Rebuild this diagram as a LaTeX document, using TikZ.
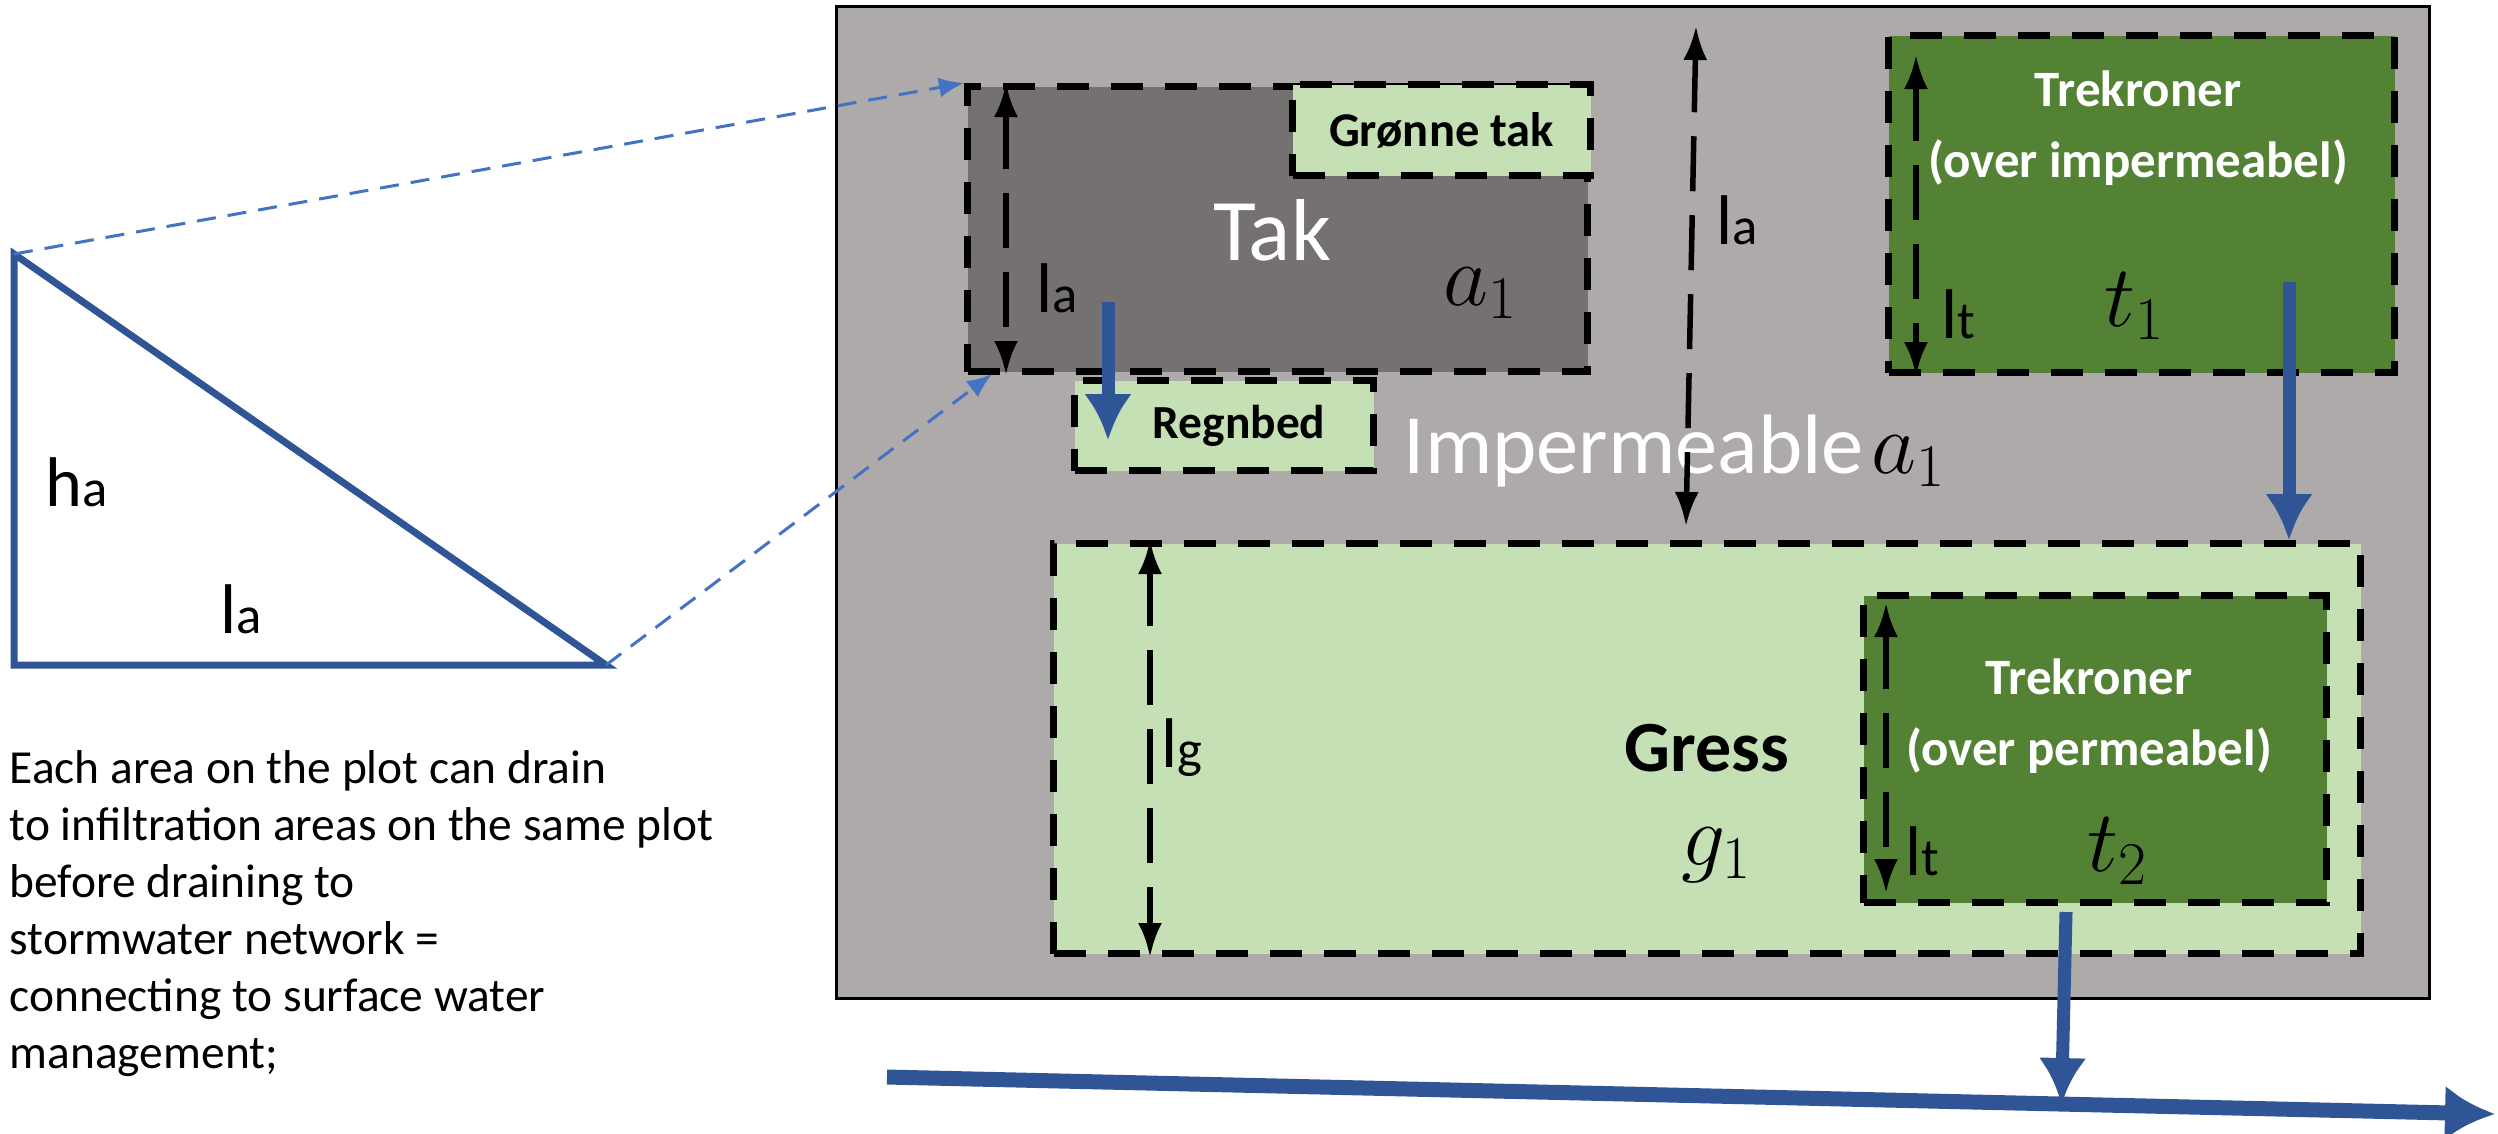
\documentclass[tikz,border=0pt]{standalone}
\usepackage{fontspec}
\setmainfont{Carlito}
\usetikzlibrary{arrows.meta,calc}

\definecolor{plotgray}{HTML}{AEAAAA}
\definecolor{roofgray}{HTML}{767171}
\definecolor{lightgreen}{HTML}{C5E0B4}
\definecolor{darkgreen}{HTML}{548235}
\definecolor{flowblue}{HTML}{2F5597}
\definecolor{linkblue}{HTML}{4472C4}

\newcommand{\dimlab}[2]{{\fontsize{20}{20}\selectfont #1\fontsize{15}{15}\selectfont #2}}
\newcommand{\arealab}[1]{{\fontsize{23}{23}\selectfont $#1$}}

\begin{document}
\begin{tikzpicture}[
  area/.style={draw=black, line width=0.7mm, dash pattern=on 3.2mm off 2.2mm, inner sep=0pt, anchor=north west},
  dimarrow/.style={line width=0.55mm, dash pattern=on 5.5mm off 2.4mm,
    {Latex[length=3.4mm,width=2.4mm]}-{Latex[length=3.4mm,width=2.4mm]}},
  flow/.style={flowblue, line width=1.3mm, -{Latex[length=4.6mm,width=4.8mm]}},
  pipe/.style={flowblue, line width=1.5mm, -{Latex[length=5mm,width=5.5mm]}},
  link/.style={linkblue, line width=0.3mm, dash pattern=on 1.9mm off 1.2mm, -{Latex[length=2.5mm,width=2mm]}},
  treetext/.style={font=\bfseries\fontsize{14.5}{20}\selectfont, text=white, align=center}
]

\useasboundingbox (0,0) rectangle (24.98,-11.33);

%------------------------------------------------
% Slope triangle
%------------------------------------------------

\coordinate (tritop) at (0.14,-2.54);
\coordinate (tribl)  at (0.14,-6.65);
\coordinate (tribr)  at (6.06,-6.65);

\draw[flowblue, line width=0.7mm] (tritop) -- (tribl) -- (tribr) -- cycle;

\node (ha) at (0.77,-4.82) {\dimlab{h}{a}};
\node (latri) at (2.41,-6.09) {\dimlab{l}{a}};

%------------------------------------------------
% Note
%------------------------------------------------

\node[anchor=north west, align=left, inner sep=0pt, font=\fontsize{13.5}{16.2}\selectfont] (note) at (0.09,-7.50)
  {Each area on the plot can drain\\
   to infiltration areas on the same plot\\
   before draining to\\
   stormwater network =\\
   connecting to surface water\\
   management;};

%------------------------------------------------
% Plot and areas
%------------------------------------------------

\node[draw=black, line width=0.25mm, fill=plotgray, minimum width=15.93cm, minimum height=9.92cm,
  inner sep=0pt, anchor=north west] (plot) at (8.35,-0.05) {};

\node[area, fill=roofgray, minimum width=6.20cm, minimum height=2.85cm] (tak) at (9.64,-0.83) {};
\node[area, fill=lightgreen, minimum width=2.98cm, minimum height=0.91cm,
  font=\bfseries\fontsize{13.8}{16}\selectfont] (gronn) at (12.89,-0.81) {Grønne tak};
\node[area, fill=lightgreen, minimum width=2.99cm, minimum height=0.90cm,
  font=\bfseries\fontsize{13.5}{16}\selectfont] (regnbed) at (10.71,-3.77) {\hspace*{3mm}Regnbed};
\node[area, fill=darkgreen, minimum width=5.06cm, minimum height=3.37cm] (trek1) at (18.85,-0.32) {};
\node[area, fill=lightgreen, minimum width=13.07cm, minimum height=4.10cm,
  font=\bfseries\fontsize{20.5}{24}\selectfont] (gress) at (10.50,-5.40) {Gress};
\node[area, fill=darkgreen, minimum width=4.63cm, minimum height=3.07cm] (trek2) at (18.60,-5.92) {};

%------------------------------------------------
% Labels
%------------------------------------------------

\node[text=white, font=\fontsize{25}{30}\selectfont] (taktxt) at (12.72,-2.30) {Tak};
\node (a1tak) at (14.81,-2.93) {\arealab{a_1}};
\node (latak) at (10.57,-2.88) {\dimlab{l}{a}};

\node[anchor=base] (imperm) at (16.75,-4.73)
  {\textcolor{white}{\fontsize{24}{28}\selectfont Impermeable} \arealab{a_1}};
\node (laplot) at (17.37,-2.20) {\dimlab{l}{a}};

\node[treetext] (trek1txt) at (21.38,-1.28) {Trekroner\\(over impermeabel)};
\node (t1) at (21.35,-3.06) {\arealab{t_1}};
\node (lt1) at (19.58,-3.14) {\dimlab{l}{t}};

\node (g1) at (17.17,-8.55) {\arealab{g_1}};
\node (lg) at (11.82,-7.48) {\dimlab{l}{g}};

\node[treetext] (trek2txt) at (20.89,-7.16) {Trekroner\\(over permeabel)};
\node (t2) at (21.18,-8.51) {\arealab{t_2}};
\node (lt2) at (19.22,-8.51) {\dimlab{l}{t}};

%------------------------------------------------
% Lengths
%------------------------------------------------

\coordinate (latop) at (16.96,-0.26);
\coordinate (labot) at (16.86,-5.26);

\draw[dimarrow] ([xshift=4.2mm]tak.north west) -- ([xshift=4.2mm]tak.south west);
\draw[dimarrow] (latop) -- (labot);
\draw[dimarrow] ([xshift=3.1mm,yshift=-2.3mm]trek1.north west) -- ([xshift=3.1mm]trek1.south west);
\draw[dimarrow] ([xshift=10mm]gress.north west) -- ([xshift=10mm]gress.south west);
\draw[dimarrow] ([xshift=2.6mm,yshift=-1.1mm]trek2.north west) -- ([xshift=2.6mm,yshift=1.3mm]trek2.south west);

%------------------------------------------------
% Runoff
%------------------------------------------------

\coordinate (takout) at (11.08,-3.02);
\coordinate (regnin) at (11.08,-4.40);
\coordinate (t1out) at (22.89,-2.82);
\coordinate (t2out) at (20.66,-9.12);
\coordinate (pipeL) at (8.87,-10.77);
\coordinate (pipeR) at (24.95,-11.14);

\draw[flow] (takout) -- (regnin);
\draw[flow] (t1out) -- (t1out |- gress.north);
\draw[pipe] (pipeL) -- (pipeR);
\draw[flow] (t2out) -- ($(pipeL)!(t2out)!(pipeR)$);

%------------------------------------------------
% Zoom links
%------------------------------------------------

\coordinate (takfoot) at (9.92,-3.74);

\draw[link] (tritop) -- (tak.north west);
\draw[link] (tribr) -- (takfoot);

\end{tikzpicture}
\end{document}
